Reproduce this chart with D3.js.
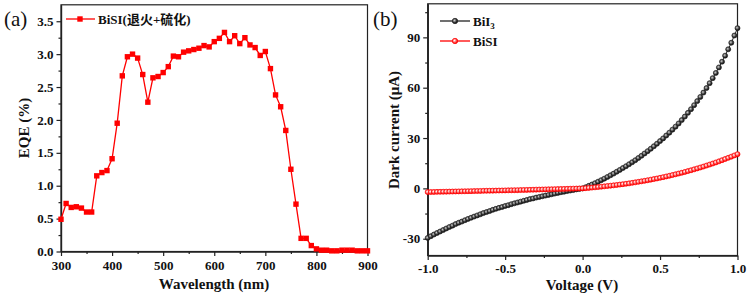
<!DOCTYPE html>
<html>
<head>
<meta charset="utf-8">
<script src="https://cdn.jsdelivr.net/npm/d3@7"></script>
<style>
    body { margin: 0; background: #fff; }
    svg text { font-family: "Liberation Serif", "Times New Roman", "Noto Sans CJK SC", serif; font-weight: bold; fill: #111; }
    .axis path, .axis line { stroke: #222; stroke-width: 1.2; }
</style>
</head>
<body>
<div id="chart"></div>
<script>

// (a) EQE spectrum
var wavelength = [300, 310, 320, 330, 340, 350, 360, 370, 380, 390,
    400, 410, 420, 430, 440, 450, 460, 470, 480, 490,
    500, 510, 520, 530, 540, 550, 560, 570, 580, 590,
    600, 610, 620, 630, 640, 650, 660, 670, 680, 690,
    700, 710, 720, 730, 740, 750, 760, 770, 780, 790,
    800, 810, 820, 830, 840, 850, 860, 870, 880, 890, 900];
var eqe = [0.49, 0.73, 0.67, 0.68, 0.66, 0.60, 0.60, 1.15, 1.20, 1.23,
    1.41, 1.95, 2.67, 2.96, 3.00, 2.94, 2.69, 2.27, 2.64, 2.66,
    2.72, 2.81, 2.97, 2.96, 3.03, 3.05, 3.07, 3.09, 3.13, 3.11,
    3.19, 3.24, 3.33, 3.19, 3.28, 3.16, 3.25, 3.14, 3.10, 2.98,
    3.04, 2.78, 2.38, 2.20, 1.84, 1.25, 0.72, 0.20, 0.20, 0.09,
    0.04, 0.02, 0.02, 0.01, 0.01, 0.02, 0.02, 0.02, 0.01, 0.01, 0.01];
var eqeTicksX = [300, 400, 500, 600, 700, 800, 900];
var eqeTicksY = [0, 0.5, 1.0, 1.5, 2.0, 2.5, 3.0, 3.5];

// (b) dark current
var voltage = [-1.00, -0.98, -0.96, -0.94, -0.92, -0.90, -0.88, -0.86, -0.84, -0.82,
    -0.80, -0.78, -0.76, -0.74, -0.72, -0.70, -0.68, -0.66, -0.64, -0.62,
    -0.60, -0.58, -0.56, -0.54, -0.52, -0.50, -0.48, -0.46, -0.44, -0.42,
    -0.40, -0.38, -0.36, -0.34, -0.32, -0.30, -0.28, -0.26, -0.24, -0.22,
    -0.20, -0.18, -0.16, -0.14, -0.12, -0.10, -0.08, -0.06, -0.04, -0.02,
    0.00, 0.02, 0.04, 0.06, 0.08, 0.10, 0.12, 0.14, 0.16, 0.18,
    0.20, 0.22, 0.24, 0.26, 0.28, 0.30, 0.32, 0.34, 0.36, 0.38,
    0.40, 0.42, 0.44, 0.46, 0.48, 0.50, 0.52, 0.54, 0.56, 0.58,
    0.60, 0.62, 0.64, 0.66, 0.68, 0.70, 0.72, 0.74, 0.76, 0.78,
    0.80, 0.82, 0.84, 0.86, 0.88, 0.90, 0.92, 0.94, 0.96, 0.98, 1.00];
var biI3 = [-29.5, -28.5, -27.5, -26.6, -25.7, -24.8, -23.9, -23.0, -22.2, -21.3,
    -20.5, -19.8, -19.0, -18.2, -17.5, -16.8, -16.1, -15.4, -14.7, -14.1,
    -13.5, -12.8, -12.2, -11.6, -11.1, -10.5, -10.0, -9.4, -8.9, -8.4,
    -7.9, -7.4, -6.9, -6.4, -6.0, -5.5, -5.1, -4.7, -4.3, -3.9,
    -3.5, -3.1, -2.7, -2.3, -2.0, -1.6, -1.3, -1.0, -0.6, -0.3,
    0.0, 0.7, 1.5, 2.3, 3.1, 4.0, 4.9, 5.8, 6.8, 7.8,
    8.8, 9.9, 11.0, 12.1, 13.2, 14.4, 15.6, 16.8, 18.1, 19.4,
    20.8, 22.2, 23.6, 25.1, 26.6, 28.2, 29.8, 31.5, 33.2, 35.0,
    36.8, 38.7, 40.7, 42.8, 45.0, 47.2, 49.6, 52.0, 54.5, 57.1,
    59.8, 62.7, 65.7, 68.8, 72.1, 75.5, 79.1, 82.9, 86.8, 91.1, 95.5];
var biSI = [-2.20, -2.16, -2.12, -2.08, -2.04, -2.00, -1.96, -1.92, -1.88, -1.84,
    -1.80, -1.76, -1.72, -1.68, -1.64, -1.60, -1.56, -1.52, -1.48, -1.44,
    -1.40, -1.36, -1.32, -1.28, -1.24, -1.20, -1.16, -1.12, -1.08, -1.04,
    -1.00, -0.95, -0.90, -0.85, -0.80, -0.75, -0.70, -0.65, -0.60, -0.55,
    -0.50, -0.45, -0.40, -0.35, -0.30, -0.25, -0.20, -0.15, -0.10, -0.05,
    0.00, 0.15, 0.30, 0.45, 0.62, 0.80, 1.00, 1.20, 1.40, 1.60,
    1.80, 2.03, 2.26, 2.50, 2.75, 3.00, 3.30, 3.60, 3.90, 4.20,
    4.50, 4.85, 5.20, 5.55, 5.90, 6.30, 6.70, 7.10, 7.50, 7.95,
    8.40, 8.85, 9.30, 9.80, 10.30, 10.80, 11.35, 11.90, 12.45, 13.00,
    13.60, 14.20, 14.80, 15.45, 16.10, 16.80, 17.50, 18.20, 18.90, 19.65, 20.40];
var ivTicksX = [-1.0, -0.5, 0.0, 0.5, 1.0];
var ivTicksY = [-30, 0, 30, 60, 90];

var svg = d3.select("#chart").append("svg")
    .attr("width", 749)
    .attr("height", 297);

var defs = svg.append("defs");
var gBlack = defs.append("radialGradient").attr("id", "ballBlack")
    .attr("cx", "40%").attr("cy", "40%").attr("r", "60%");
gBlack.append("stop").attr("offset", "0%").attr("stop-color", "#cfcfcf");
gBlack.append("stop").attr("offset", "70%").attr("stop-color", "#2a2a2a");
gBlack.append("stop").attr("offset", "100%").attr("stop-color", "#111");
var gRed = defs.append("radialGradient").attr("id", "ballRed")
    .attr("cx", "40%").attr("cy", "40%").attr("r", "60%");
gRed.append("stop").attr("offset", "0%").attr("stop-color", "#ffffff");
gRed.append("stop").attr("offset", "60%").attr("stop-color", "#ff5050");
gRed.append("stop").attr("offset", "100%").attr("stop-color", "#ff0000");

function fmt(d) { return d3.format(".1f")(d).replace("\u2212", "-"); }
function fmtInt(d) { return String(d); }

// axes with outward major + minor ticks and a closed frame
function drawFrame(g, x, y, xMajor, xMinor, yMajor, yMinor, xFmt, yFmt, xPad) {
    var x0 = x.range()[0], x1 = x.range()[1],
        y0 = y.range()[0], y1 = y.range()[1];

    g.append("g").attr("class", "axis")
        .attr("transform", "translate(0," + y0 + ")")
        .call(d3.axisBottom(x).tickValues(xMinor).tickSize(2.5).tickFormat("").tickSizeOuter(0));
    g.append("g").attr("class", "axis")
        .attr("transform", "translate(0," + y0 + ")")
        .call(d3.axisBottom(x).tickValues(xMajor).tickSize(4.5).tickPadding(xPad).tickFormat(xFmt).tickSizeOuter(0))
        .selectAll("text").attr("font-size", 13);

    g.append("g").attr("class", "axis")
        .attr("transform", "translate(" + x0 + ",0)")
        .call(d3.axisLeft(y).tickValues(yMinor).tickSize(2.5).tickFormat("").tickSizeOuter(0));
    g.append("g").attr("class", "axis")
        .attr("transform", "translate(" + x0 + ",0)")
        .call(d3.axisLeft(y).tickValues(yMajor).tickSize(4.5).tickPadding(3).tickFormat(yFmt).tickSizeOuter(0))
        .selectAll("text").attr("font-size", 13);

    g.append("rect")
        .attr("x", x0).attr("y", y1)
        .attr("width", x1 - x0).attr("height", y0 - y1)
        .attr("fill", "none").attr("stroke", "#222").attr("stroke-width", 1.2);
}

// ---------- (a) ----------
var xa = d3.scaleLinear().domain([300, 900]).range([61, 367.5]),
    ya = d3.scaleLinear().domain([0, 3.75]).range([251.5, 4.8]);

var panelA = svg.append("g");
drawFrame(panelA, xa, ya, eqeTicksX, d3.range(350, 900, 100), eqeTicksY, d3.range(0.25, 3.75, 0.5), fmtInt, fmt, 5);

var eqeData = wavelength.map(function(w, i) { return {x: w, y: eqe[i]}; });

panelA.append("path")
    .datum(eqeData)
    .attr("fill", "none")
    .attr("stroke", "#ff0000")
    .attr("stroke-width", 1.3)
    .attr("d", d3.line().x(function(d) { return xa(d.x); }).y(function(d) { return ya(d.y); }));

panelA.selectAll(".sq")
    .data(eqeData)
    .enter().append("rect")
    .attr("class", "sq")
    .attr("x", function(d) { return xa(d.x) - 2.7; })
    .attr("y", function(d) { return ya(d.y) - 2.7; })
    .attr("width", 5.4).attr("height", 5.4)
    .attr("fill", "#ff0000");

// legend (a)
panelA.append("line").attr("x1", 66).attr("x2", 95).attr("y1", 19).attr("y2", 19)
    .attr("stroke", "#ff0000").attr("stroke-width", 1.3);
panelA.append("rect").attr("x", 77.3).attr("y", 16.3).attr("width", 5.4).attr("height", 5.4).attr("fill", "#ff0000");
panelA.append("text").attr("x", 98).attr("y", 23.5).attr("font-size", 13).text("BiSI(退火+硫化)");

panelA.append("text")
    .attr("x", 214).attr("y", 289)
    .attr("text-anchor", "middle").attr("font-size", 15)
    .text("Wavelength (nm)");
panelA.append("text")
    .attr("transform", "translate(29,128) rotate(-90)")
    .attr("text-anchor", "middle").attr("font-size", 15)
    .text("EQE (%)");
panelA.append("text")
    .attr("x", 4).attr("y", 26)
    .attr("font-size", 21)
    .style("font-weight", "normal")
    .text("(a)");

// ---------- (b) ----------
var xb = d3.scaleLinear().domain([-1, 1]).range([427.7, 737.5]),
    yb = d3.scaleLinear().domain([-40, 110]).range([255.5, 3.8]);

var panelB = svg.append("g");
drawFrame(panelB, xb, yb, ivTicksX, [-0.75, -0.25, 0.25, 0.75], ivTicksY, [-15, 15, 45, 75, 105], fmt, fmtInt, 3.5);

var series = [
    {name: "BiI3", values: biI3, color: "#222", fill: "url(#ballBlack)"},
    {name: "BiSI", values: biSI, color: "#ff0000", fill: "url(#ballRed)"}
];

series.forEach(function(s) {
    var pts = voltage.map(function(v, i) { return {x: v, y: s.values[i]}; });
    panelB.append("path")
        .datum(pts)
        .attr("fill", "none")
        .attr("stroke", s.color)
        .attr("stroke-width", 1)
        .attr("d", d3.line().x(function(d) { return xb(d.x); }).y(function(d) { return yb(d.y); }));
    panelB.selectAll(".pt-" + s.name)
        .data(pts)
        .enter().append("circle")
        .attr("class", "pt-" + s.name)
        .attr("cx", function(d) { return xb(d.x); })
        .attr("cy", function(d) { return yb(d.y); })
        .attr("r", 2.5)
        .attr("fill", s.fill)
        .attr("stroke", s.color)
        .attr("stroke-width", 0.7);
});

// legend (b)
series.forEach(function(s, i) {
    var ly = 21 + i * 20;
    panelB.append("line").attr("x1", 440).attr("x2", 470).attr("y1", ly).attr("y2", ly)
        .attr("stroke", s.color).attr("stroke-width", 1.3);
    panelB.append("circle").attr("cx", 455).attr("cy", ly).attr("r", 2.7)
        .attr("fill", s.fill).attr("stroke", s.color).attr("stroke-width", 0.7);
});
var lt = panelB.append("text").attr("x", 473).attr("y", 25.5).attr("font-size", 13);
lt.append("tspan").text("BiI");
lt.append("tspan").attr("font-size", 9).attr("dy", 3).text("3");
panelB.append("text").attr("x", 473).attr("y", 45.5).attr("font-size", 13).text("BiSI");

panelB.append("text")
    .attr("x", 582).attr("y", 290)
    .attr("text-anchor", "middle").attr("font-size", 15)
    .text("Voltage (V)");
panelB.append("text")
    .attr("transform", "translate(399,130) rotate(-90)")
    .attr("text-anchor", "middle").attr("font-size", 15)
    .text("Dark current (μA)");
panelB.append("text")
    .attr("x", 373).attr("y", 26)
    .attr("font-size", 21)
    .style("font-weight", "normal")
    .text("(b)");

</script>
</body>
</html>
